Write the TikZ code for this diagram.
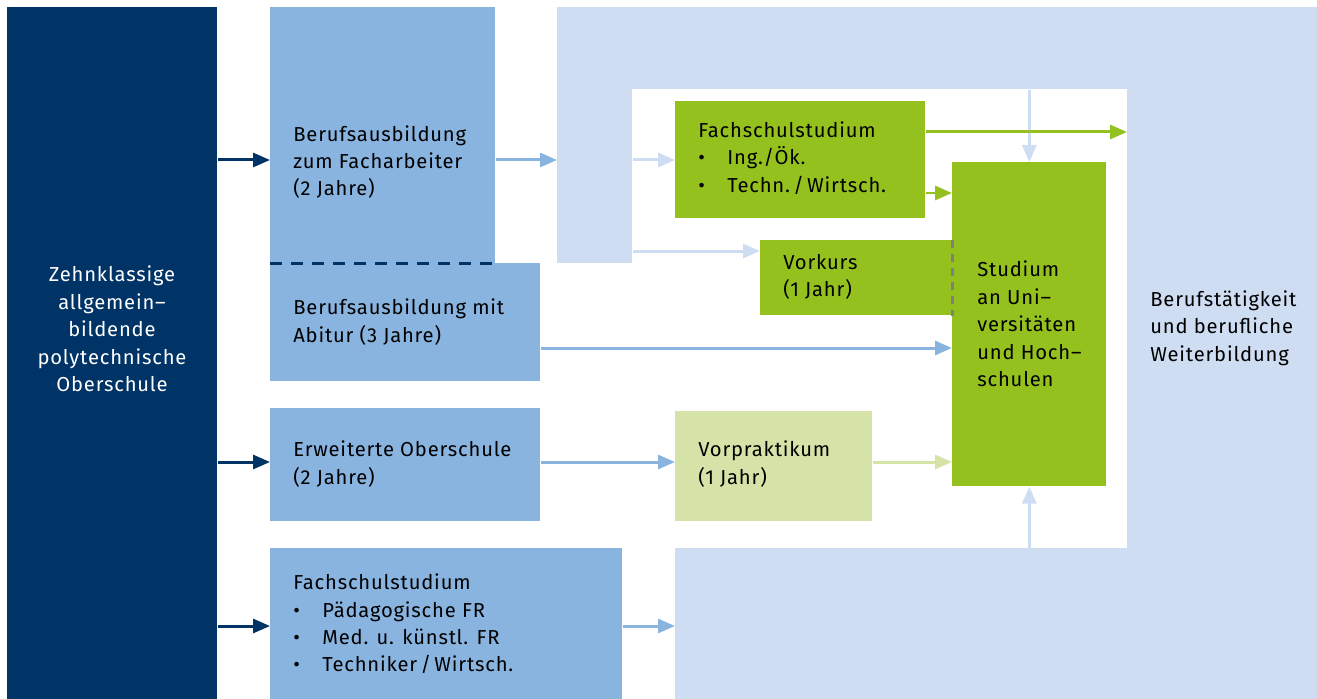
\documentclass[tikz,border=0pt]{standalone}
\usepackage{fontspec}
\setmainfont{Fira Sans}[LetterSpace=4.0]
\usetikzlibrary{arrows.meta}

\definecolor{navy}{HTML}{003366}
\definecolor{mittelblau}{HTML}{8AB4E0}
\definecolor{hellblau}{HTML}{CFDDF3}
\definecolor{gruen}{HTML}{95C11F}
\definecolor{hellgruen}{HTML}{D5E3A8}
\definecolor{strichgrau}{HTML}{808080}

\tikzset{
  feld/.style={fill=#1, draw=none, inner sep=0, anchor=north west},
  txt/.style={anchor=west, align=left, inner sep=0, font=\fontsize{11.5}{15.6}\selectfont},
  pfeil/.style={draw=#1, line width=0.06cm, -{Triangle[length=0.34cm,width=0.28cm]}},
  punkt/.style={},
}
\newcommand{\pkt}{\makebox[0.58cm][l]{•}}

\begin{document}
\begin{tikzpicture}[x=0.02cm, y=-0.02cm]
	\useasboundingbox (0,0) rectangle (1317,699);

	% hellblaue Flaechen
	\node[feld=hellblau, minimum width=1.5cm, minimum height=5.12cm] (links) at (557,7) {};
	\node[feld=hellblau, minimum width=9.9cm, minimum height=1.64cm] (oben) at (632,7) {};
	\node[feld=hellblau, minimum width=3.8cm, minimum height=13.84cm] (rechts) at (1127,7) {};
	\node[feld=hellblau, minimum width=9.04cm, minimum height=3.02cm] (unten) at (675,548) {};

	% Kaesten
	\node[feld=navy, minimum width=4.2cm, minimum height=13.84cm] (pos) at (7,7) {};
	\node[feld=mittelblau, minimum width=4.5cm, minimum height=5.12cm] (facharb) at (270,7) {};
	\node[feld=mittelblau, minimum width=5.4cm, minimum height=2.36cm] (abitur) at (270,263) {};
	\node[feld=mittelblau, minimum width=5.4cm, minimum height=2.26cm] (eos) at (270,408) {};
	\node[feld=mittelblau, minimum width=7.04cm, minimum height=3.02cm] (fsu) at (270,548) {};
	\node[feld=gruen, minimum width=5cm, minimum height=2.34cm] (fsgr) at (675,101) {};
	\node[feld=gruen, minimum width=3.84cm, minimum height=1.5cm] (vorkurs) at (760,240) {};
	\node[feld=gruen, minimum width=3.08cm, minimum height=6.48cm] (studium) at (952,162) {};
	\node[feld=hellgruen, minimum width=3.94cm, minimum height=2.2cm] (vorpr) at (675,411) {};

	\draw[navy, line width=0.06cm, dash pattern=on 0.24cm off 0.18cm] (facharb.south west) -- (facharb.south east);
	\draw[strichgrau, line width=0.06cm, dash pattern=on 0.16cm off 0.12cm] (vorkurs.north east) -- (vorkurs.south east);

	% Texte
	\node[txt, anchor=center, align=center, text=white] (tpos) at (112,329)
		{Zehnklassige\\allgemein--\\bildende\\polytechnische\\Oberschule};
	\node[txt] (tfach) at (293,162) {Berufsausbildung\\zum Facharbeiter\\(2 Jahre)};
	\node[txt] (tabi) at (293,322) {Berufsausbildung mit\\Abitur (3 Jahre)};
	\node[txt] (teos) at (293,464) {Erweiterte Oberschule\\(2 Jahre)};
	\node[txt] (tfsu) at (293,624) {Fachschulstudium\\\pkt Pädagogische FR\\\pkt Med. u. künstl. FR\\\pkt Techniker\,/\,Wirtsch.};
	\node[txt] (tfsgr) at (698,158) {Fachschulstudium\\\pkt Ing./Ök.\\\pkt Techn.\,/\,Wirtsch.};
	\node[txt] (tvk) at (783,277) {Vorkurs\\(1 Jahr)};
	\node[txt] (tstud) at (977,324) {Studium\\an Uni--\\versitäten\\und Hoch--\\schulen};
	\node[txt] (tvp) at (698,464) {Vorpraktikum\\(1 Jahr)};
	\node[txt] (tberuf) at (1150,328) {Berufstätigkeit\\und berufliche\\Weiterbildung};

	% Pfeile
	\draw[pfeil=navy] (pos.east |- 0,160) -- (facharb.west |- 0,160);
	\draw[pfeil=navy] (pos.east |- 0,462) -- (eos.west |- 0,462);
	\draw[pfeil=navy] (pos.east |- 0,626) -- (fsu.west |- 0,626);
	\draw[pfeil=mittelblau] (facharb.east |- 0,160) -- (links.west |- 0,160);
	\draw[pfeil=mittelblau] (abitur.east |- 0,348) -- (studium.west |- 0,348);
	\draw[pfeil=mittelblau] (eos.east |- 0,462) -- (vorpr.west |- 0,462);
	\draw[pfeil=mittelblau] (fsu.east |- 0,626) -- (unten.west |- 0,626);
	\draw[pfeil=hellblau] (links.east |- 0,160) -- (fsgr.west |- 0,160);
	\draw[pfeil=hellblau] (links.east |- 0,251) -- (vorkurs.west |- 0,251);
	\draw[pfeil=hellblau] (oben.south -| studium.north) -- (studium.north);
	\draw[pfeil=hellblau] (unten.north -| studium.south) -- (studium.south);
	\draw[pfeil=hellgruen] (vorpr.east |- 0,462) -- (studium.west |- 0,462);
	\draw[pfeil=gruen] (fsgr.east |- 0,132) -- (rechts.west |- 0,132);
	\draw[pfeil=gruen] (fsgr.east |- 0,193) -- (studium.west |- 0,193);
\end{tikzpicture}
\end{document}
